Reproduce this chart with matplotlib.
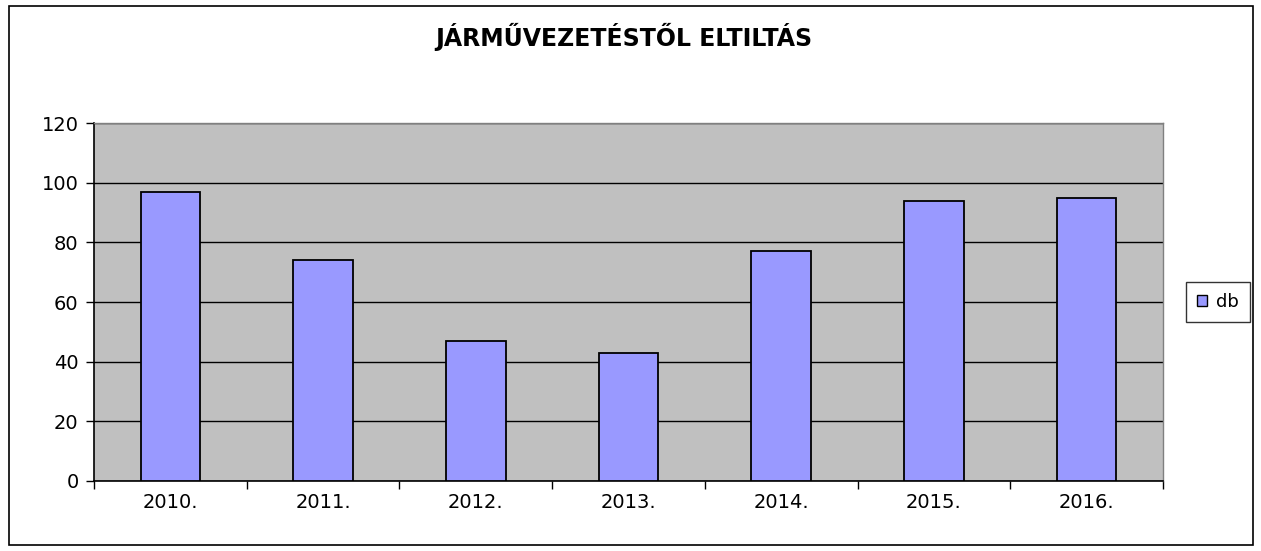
import matplotlib
matplotlib.use("Agg")
import matplotlib.pyplot as plt
from matplotlib.patches import Rectangle
import numpy as np

categories = ["2010.", "2011.", "2012.", "2013.", "2014.", "2015.", "2016."]
values = [97, 74, 47, 43, 77, 94, 95]
yticks = [0, 20, 40, 60, 80, 100, 120]
series_name = "db"
title = "JÁRMŰVEZETÉSTŐL ELTILTÁS"

plt.rcParams['font.family'] = ['DejaVu Sans']

fig = plt.figure(figsize=(12.61, 5.51), dpi=100)
fig.patches.append(Rectangle((9/1261, 6/551), 1244/1261, 539/551, transform=fig.transFigure,
                             fill=False, edgecolor='black', linewidth=1.2))

ax = fig.add_axes([94/1261, 1 - 481/551, (1163 - 94)/1261, (481 - 123)/551])
ax.set_facecolor('#c0c0c0')
x = np.arange(len(categories))
bars = ax.bar(x, values, width=0.39, color='#9999ff', edgecolor='black', linewidth=1.3,
              label=series_name, zorder=3)
ax.set_xlim(-0.5, len(categories) - 0.5)
ax.set_ylim(0, 120)
ax.set_yticks(yticks)
ax.set_yticklabels([str(v) for v in yticks], fontsize=14)
ax.yaxis.grid(True, color='black', linewidth=1.0, zorder=1)
ax.set_axisbelow(True)
ax.set_xticks(x)
ax.set_xticklabels(categories, fontsize=14)
ax.set_xticks(np.arange(-0.5, len(categories)), minor=True)
ax.tick_params(axis='x', which='major', length=0, pad=9)
ax.tick_params(axis='x', which='minor', length=6, width=1, direction='out')
ax.tick_params(axis='y', length=6, width=1, direction='out', pad=5)
for s in ['top', 'right']:
    ax.spines[s].set_color('#808080')
    ax.spines[s].set_linewidth(1)
for s in ['left', 'bottom']:
    ax.spines[s].set_color('black')
    ax.spines[s].set_linewidth(1.2)

fig.text(624/1261, 1 - 37/551, title, ha='center', va='center', fontsize=17, fontweight='bold')

leg = fig.legend(handles=[bars], labels=[series_name], loc='center',
                 bbox_to_anchor=(1218/1261, 1 - 302/551), fontsize=13, frameon=True,
                 fancybox=False, edgecolor='black', handlelength=0.55, handleheight=0.55,
                 handletextpad=0.5, borderpad=0.6)
leg.get_frame().set_linewidth(1.0)
for h in leg.legend_handles:
    h.set_linewidth(1.0)

fig.savefig("out.png", dpi=100, facecolor='white')
